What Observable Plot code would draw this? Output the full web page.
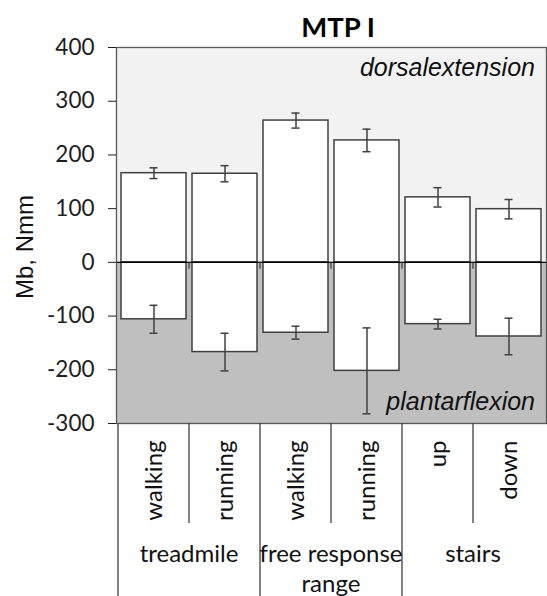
<!DOCTYPE html>
<html><head><meta charset="utf-8">
<script src="https://cdn.jsdelivr.net/npm/d3@7"></script>
<script src="https://cdn.jsdelivr.net/npm/@observablehq/plot@0.6"></script>
<style>body{margin:0;background:#fff} svg{display:block;background:#fff}</style>
</head><body><div id="chart"></div>
<script>
const title = "MTP I";
const yLabel = "Mb, Nmm";
const groups = ["treadmile", "treadmile", "free response range", "free response range", "stairs", "stairs"];
const groupLines = {"treadmile": ["treadmile"], "free response range": ["free response", "range"], "stairs": ["stairs"]};
const activities = ["walking", "running", "walking", "running", "up", "down"];
const dorsal = [166, 165, 264, 227, 121, 99];
const dorsalErr = [10, 15, 14, 21, 18, 18];
const plantar = [-106, -167, -131, -202, -115, -138];
const plantarErr = [26, 35, 12, 80, 9, 34];
const yTicks = [400, 300, 200, 100, 0, -100, -200, -300];
const dorsalText = "dorsalextension";
const plantarText = "plantarflexion";

const rows = activities.map((a, i) => ({
  key: groups[i] + "|" + a, group: groups[i], activity: a,
  dorsal: dorsal[i], dErr: dorsalErr[i], plantar: plantar[i], pErr: plantarErr[i]
}));
const keys = rows.map(d => d.key);

const ink = "#404040";
const txt = "#111";
const chart = Plot.plot({
  width: 547, height: 596,
  marginLeft: 116, marginRight: 1, marginTop: 47, marginBottom: 173,
  style: {fontFamily: "Lato", background: "#fff"},
  x: {type: "band", domain: keys, paddingInner: 0.08, paddingOuter: 0.04, axis: null},
  y: {domain: [-300, 400], axis: null},
  marks: [
    Plot.rect([{a: 0, b: 400}], {y1: "a", y2: "b", fill: "#f2f2f2"}),
    Plot.rect([{a: -300, b: 0}], {y1: "a", y2: "b", fill: "#bfbfbf"}),
    Plot.barY(rows, {x: "key", y1: 0, y2: "dorsal", fill: "white", stroke: ink, strokeWidth: 1.5}),
    Plot.barY(rows, {x: "key", y1: 0, y2: "plantar", fill: "white", stroke: ink, strokeWidth: 1.5}),
    Plot.ruleX(rows, {x: "key", y1: d => d.dorsal - d.dErr, y2: d => d.dorsal + d.dErr, stroke: ink, strokeWidth: 1.5}),
    Plot.tickY(rows, {x: "key", y: d => d.dorsal - d.dErr, insetLeft: 28.5, insetRight: 28.5, stroke: ink, strokeWidth: 1.5}),
    Plot.tickY(rows, {x: "key", y: d => d.dorsal + d.dErr, insetLeft: 28.5, insetRight: 28.5, stroke: ink, strokeWidth: 1.5}),
    Plot.ruleX(rows, {x: "key", y1: d => d.plantar - d.pErr, y2: d => d.plantar + d.pErr, stroke: ink, strokeWidth: 1.5}),
    Plot.tickY(rows, {x: "key", y: d => d.plantar - d.pErr, insetLeft: 28.5, insetRight: 28.5, stroke: ink, strokeWidth: 1.5}),
    Plot.tickY(rows, {x: "key", y: d => d.plantar + d.pErr, insetLeft: 28.5, insetRight: 28.5, stroke: ink, strokeWidth: 1.5}),
    Plot.ruleY([0], {stroke: "#000", strokeWidth: 1.2}),
    Plot.frame({stroke: "#595959", strokeWidth: 1.3}),
    Plot.axisY({ticks: yTicks, tickSize: 8, tickPadding: 14, fontSize: 22.5, tickFormat: d => String(d), color: "#1e1e1e", label: null}),
    Plot.text(rows, {x: "key", text: "activity", frameAnchor: "bottom", rotate: -90, textAnchor: "end", lineAnchor: "middle", dy: 17, fontSize: 24, fill: txt})
  ]
});
document.getElementById("chart").append(chart);

const svg = d3.select(chart);
const xs = chart.scale("x"), ys = chart.scale("y");
const off = (xs.step - xs.bandwidth) / 2;
const bounds = keys.map(k => xs.apply(k) - off);
bounds.push(xs.apply(keys[keys.length - 1]) + xs.bandwidth + off);
const y0 = ys.apply(0), yb = ys.apply(-300), yt = ys.apply(400);
const g = svg.append("g");
// small ticks on zero line
bounds.slice(1, -1).forEach(b => g.append("line").attr("x1", b).attr("x2", b).attr("y1", y0).attr("y2", y0 + 7).attr("stroke", ink).attr("stroke-width", 1.3));
// category separators
bounds.slice(0, -1).forEach((b, i) => {
  g.append("line").attr("x1", b).attr("x2", b).attr("y1", yb).attr("y2", i % 2 === 0 ? 596 : yb + 100)
    .attr("stroke", ink).attr("stroke-width", 1.3);
});
// group labels
const uniq = [...new Set(groups)];
uniq.forEach(gr => {
  const idx = groups.map((v, i) => v === gr ? i : -1).filter(i => i >= 0);
  const cx = (bounds[idx[0]] + bounds[idx[idx.length - 1] + 1]) / 2;
  groupLines[gr].forEach((line, j) => {
    g.append("text").attr("x", cx).attr("y", yb + 139 + j * 30).attr("text-anchor", "middle")
      .attr("font-family", "Lato").attr("font-size", 24).attr("fill", txt).text(line);
  });
});
// region labels
g.append("text").attr("x", 535).attr("y", yt + 29).attr("text-anchor", "end")
  .attr("font-family", "Liberation Sans").attr("font-style", "italic").attr("font-size", 25).attr("fill", txt).text(dorsalText);
g.append("text").attr("x", 535).attr("y", yb - 13).attr("text-anchor", "end")
  .attr("font-family", "Liberation Sans").attr("font-style", "italic").attr("font-size", 25).attr("fill", txt).text(plantarText);
// title
g.append("text").attr("x", 338).attr("y", 37).attr("text-anchor", "middle")
  .attr("font-family", "Lato").attr("font-weight", "bold").attr("font-size", 27.5).attr("fill", "#000").text(title);
// y label
g.append("text").attr("transform", `translate(33,${(yt + yb) / 2 + 12}) rotate(-90)`).attr("text-anchor", "middle")
  .attr("font-family", "Liberation Sans").attr("font-size", 24).attr("fill", txt).text(yLabel);
</script></body></html>
